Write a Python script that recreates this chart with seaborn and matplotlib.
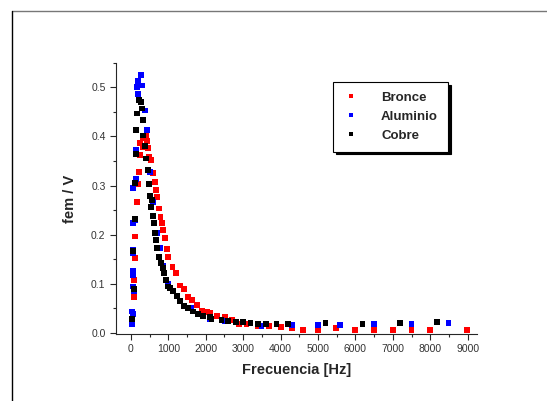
import numpy as np
import pandas as pd
import matplotlib
matplotlib.use("Agg")
import matplotlib.pyplot as plt
from matplotlib.lines import Line2D
from matplotlib.ticker import MultipleLocator
import seaborn as sns

# Bronce (red)
bronce_f = [80, 80, 107, 107, 169, 200, 222, 250, 240, 310, 330, 400, 435, 465, 490, 525,
            600, 640, 670, 705, 755, 790, 820, 865, 910, 955, 1000, 1110, 1200, 1310,
            1420, 1530, 1640, 1755, 1890, 2030, 2110, 2300, 2510, 2690, 2890, 3090, 3400,
            3700, 4000, 4300, 4600, 4990, 5490, 6000, 6500, 7000, 7500, 7990, 8990]
bronce_v = [0.073, 0.108, 0.152, 0.196, 0.267, 0.303, 0.328, 0.362, 0.386, 0.379, 0.396,
            0.402, 0.390, 0.377, 0.358, 0.352, 0.325, 0.308, 0.291, 0.277, 0.253, 0.236,
            0.223, 0.209, 0.192, 0.170, 0.155, 0.134, 0.121, 0.096, 0.089, 0.073, 0.066,
            0.057, 0.045, 0.042, 0.041, 0.034, 0.031, 0.026, 0.018, 0.018, 0.013, 0.014,
            0.011, 0.010, 0.006, 0.006, 0.009, 0.006, 0.006, 0.005, 0.005, 0.006, 0.006]

# Aluminio (blue)
alum_f = [27, 27, 50, 62, 62, 62, 62, 62, 89, 62, 107, 134, 62, 125, 169, 196, 196, 258,
          285, 383, 419, 507, 600, 700, 770, 860, 996, 1310, 1620, 2110, 2510, 3490, 4310,
          4990, 5600, 6500, 7500, 8490]
alum_v = [0.017, 0.043, 0.037, 0.094, 0.118, 0.125, 0.163, 0.169, 0.084, 0.223, 0.230,
          0.314, 0.294, 0.372, 0.501, 0.487, 0.514, 0.526, 0.504, 0.453, 0.414, 0.328,
          0.267, 0.203, 0.172, 0.136, 0.100, 0.064, 0.050, 0.028, 0.023, 0.014, 0.015,
          0.015, 0.016, 0.018, 0.017, 0.020]

# Cobre (black)
cobre_f = [27, 89, 62, 107, 107, 134, 134, 169, 222, 260, 285, 312, 330, 374, 401, 445,
           472, 507, 534, 552, 579, 614, 641, 668, 703, 756, 801, 846, 881, 935, 996, 1042,
           1131, 1220, 1309, 1416, 1531, 1665, 1798, 1932, 2110, 2154, 2422, 2600, 2804,
           3000, 3196, 3401, 3606, 3891, 4203, 5200, 6189, 7185, 8192]
cobre_v = [0.028, 0.088, 0.166, 0.232, 0.306, 0.365, 0.413, 0.447, 0.474, 0.470, 0.457,
           0.433, 0.402, 0.380, 0.355, 0.331, 0.303, 0.278, 0.257, 0.270, 0.238, 0.223,
           0.203, 0.189, 0.172, 0.155, 0.142, 0.131, 0.121, 0.108, 0.094, 0.090, 0.084,
           0.074, 0.064, 0.055, 0.050, 0.043, 0.037, 0.033, 0.031, 0.028, 0.026, 0.023,
           0.021, 0.021, 0.020, 0.018, 0.018, 0.017, 0.018, 0.020, 0.018, 0.020, 0.021]

series = ["Bronce", "Aluminio", "Cobre"]
colors = {"Bronce": "#ff0000", "Aluminio": "#0000ff", "Cobre": "#000000"}

df = pd.concat([
    pd.DataFrame({"f": bronce_f, "v": bronce_v, "s": "Bronce"}),
    pd.DataFrame({"f": alum_f, "v": alum_v, "s": "Aluminio"}),
    pd.DataFrame({"f": cobre_f, "v": cobre_v, "s": "Cobre"}),
], ignore_index=True)

sns.set_style("ticks")
plt.rcParams["font.family"] = ["Liberation Sans", "DejaVu Sans"]

fig = plt.figure(figsize=(5.47, 4.01), dpi=100)
ax = fig.add_axes([0.212, 0.167, 0.66, 0.676])

sns.scatterplot(data=df, x="f", y="v", hue="s", hue_order=series, palette=colors,
                marker="s", s=18, linewidth=0, ax=ax, legend=False)

ax.set_xlim(-400, 9250)
ax.set_ylim(-0.003, 0.55)
ax.xaxis.set_major_locator(MultipleLocator(1000))
ax.xaxis.set_minor_locator(MultipleLocator(500))
ax.yaxis.set_major_locator(MultipleLocator(0.1))
ax.yaxis.set_minor_locator(MultipleLocator(0.05))
ax.tick_params(axis="both", which="major", length=4, width=0.8, labelsize=7.5,
               labelcolor="#333333", direction="out")
ax.tick_params(axis="both", which="minor", length=2.5, width=0.8, direction="out")
sns.despine(ax=ax)
for sp in ax.spines.values():
    sp.set_linewidth(0.8)

ax.set_xlabel("Frecuencia [Hz]", fontsize=10.5, fontweight="bold", labelpad=6)
ax.set_ylabel("fem / V", fontsize=10.5, fontweight="bold", labelpad=10)

handles = [Line2D([], [], marker="s", linestyle="", markersize=3.5,
                  markerfacecolor=colors[k], markeredgewidth=0) for k in series]
leg = ax.legend(handles, series, loc="upper left", bbox_to_anchor=(0.601, 0.93),
                borderaxespad=0, frameon=True, fancybox=False,
                shadow={"color": "black", "alpha": 1},
                prop={"weight": "bold", "size": 9.5}, handletextpad=1.6,
                borderpad=0.75, labelspacing=0.5, handlelength=1.3)
leg.get_frame().set_edgecolor("black")
leg.get_frame().set_linewidth(0.8)
leg.get_frame().set_alpha(1)

# page frame
fig.add_artist(Line2D([12 / 547, 1.0], [1 - 11 / 401, 1 - 11 / 401], color="#777777", lw=1))
fig.add_artist(Line2D([12 / 547, 12 / 547], [0, 1 - 11 / 401], color="black", lw=1))

fig.savefig("out.png", dpi=100)
